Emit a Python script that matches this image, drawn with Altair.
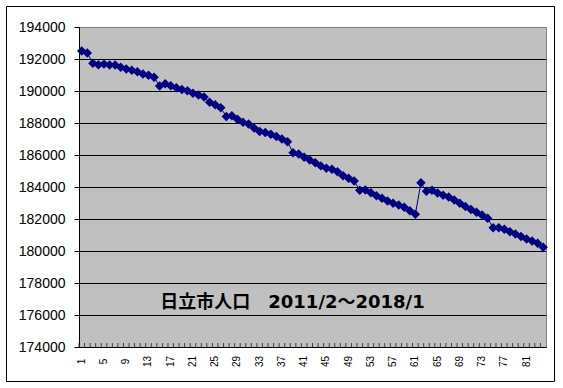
import altair as alt
import pandas as pd

months = list(range(1, 85))
population = [
    192500, 192380, 191730, 191640, 191680, 191630, 191620, 191490, 191380, 191300,
    191200, 191060, 190990, 190860, 190310, 190460, 190330, 190200, 190100, 190010,
    189860, 189750, 189620, 189290, 189140, 188950, 188400, 188460, 188240, 188050,
    187940, 187680, 187470, 187400, 187290, 187150, 187000, 186830, 186140, 186060,
    185860, 185690, 185520, 185320, 185170, 185110, 184960, 184700, 184540, 184370,
    183790, 183810, 183640, 183450, 183290, 183120, 182980, 182870, 182730, 182520,
    182290, 184270, 183730, 183790, 183620, 183480, 183370, 183190, 182980, 182780,
    182600, 182420, 182250, 182040, 181460, 181460, 181360, 181210, 181060, 180900,
    180750, 180620, 180480, 180240,
]
y_ticks = list(range(174000, 194001, 2000))
title_text = "日立市人口　2011/2～2018/1"

df = pd.DataFrame({"n": months, "pop": population})

xscale = alt.Scale(type="band", paddingInner=0, paddingOuter=0)
x_axis = alt.Axis(
    title=None,
    labelExpr="(datum.value - 1) % 4 == 0 ? datum.label : ''",
    labelAngle=270,
    labelAlign="center",
    labelBaseline="middle",
    labelFont="Liberation Sans",
    labelFontSize=10,
    labelColor="black",
    labelPadding=14,
    labelOverlap=False,
    ticks=False,
    domainColor="black",
    grid=False,
)
y_axis = alt.Axis(
    title=None,
    values=y_ticks,
    format="d",
    labelFont="Liberation Sans",
    labelFontSize=14,
    labelColor="black",
    labelPadding=9,
    labelOverlap=False,
    labelFlush=False,
    tickSize=5,
    tickColor="black",
    domainColor="black",
    grid=True,
    gridColor={"condition": {"test": "datum.value >= 194000", "value": "#808080"}, "value": "black"},
    gridWidth=1,
)
yscale = alt.Scale(domain=[174000, 194000], nice=False, zero=False)

base = alt.Chart(df)

line = base.mark_line(color="#000080", strokeWidth=1).encode(
    x=alt.X("n:O", scale=xscale, axis=x_axis, bandPosition=0.5),
    y=alt.Y("pop:Q", scale=yscale, axis=y_axis),
)
points = base.mark_point(shape="diamond", filled=True, size=90, color="#000080", opacity=1).encode(
    x=alt.X("n:O", scale=xscale, axis=x_axis, bandPosition=0.5),
    y=alt.Y("pop:Q", scale=yscale, axis=y_axis),
)
ticks = base.mark_rule(color="#404040", strokeWidth=1).encode(
    x=alt.X("n:O", scale=xscale, axis=x_axis, bandPosition=0),
    y=alt.value(316),
    y2=alt.value(320),
)

one = pd.DataFrame({"a": [0]})
label = alt.Chart(one).mark_text(
    text=title_text,
    font="DejaVu Sans, Noto Sans CJK JP",
    fontWeight="bold",
    fontSize=18,
    align="center",
    baseline="middle",
    color="black",
).encode(x=alt.value(213.5), y=alt.value(276))

border = alt.Chart(one).mark_rect(
    fillOpacity=0, stroke="black", strokeWidth=1
).encode(
    x=alt.value(-72.5), x2=alt.value(475.5), y=alt.value(-20.5), y2=alt.value(354.5)
)

chart = alt.layer(ticks, line, points, label, border).properties(
    width=467,
    height=320,
    autosize=alt.AutoSizeParams(type="none"),
    padding={"left": 79, "top": 27, "right": 17, "bottom": 41},
    background="white",
).configure_view(
    fill="#C0C0C0", stroke="#808080", strokeWidth=1
).configure_axis(
    labelOverlap=False
)

chart.save("out.html", embed_options={"renderer": "svg", "actions": False})
